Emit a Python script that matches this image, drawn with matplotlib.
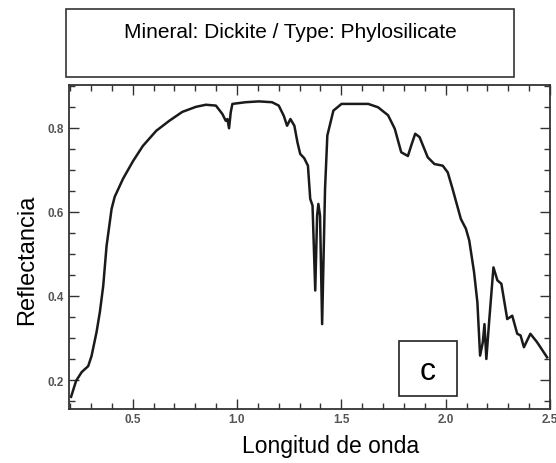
import matplotlib
matplotlib.use("Agg")
from matplotlib import pyplot as plt
from matplotlib.patches import Rectangle
from matplotlib.ticker import MultipleLocator

plt.rcParams['font.family'] = ['Liberation Sans', 'DejaVu Sans']

# espectro de reflectancia (longitud de onda en micras)
wavelength = [0.205, 0.229, 0.256, 0.287, 0.303, 0.327, 0.343, 0.359, 0.375, 0.399,
              0.414, 0.454, 0.502, 0.549, 0.613, 0.676, 0.738, 0.803, 0.851, 0.899,
              0.930, 0.946, 0.954, 0.962, 0.970, 0.978, 1.041, 1.105, 1.168, 1.200,
              1.224, 1.240, 1.256, 1.275, 1.290, 1.303, 1.322, 1.340, 1.351, 1.362,
              1.375, 1.384, 1.390, 1.398, 1.408, 1.422, 1.433, 1.462, 1.501, 1.565,
              1.629, 1.676, 1.724, 1.756, 1.787, 1.819, 1.835, 1.854, 1.875, 1.914,
              1.946, 1.986, 2.010, 2.033, 2.073, 2.097, 2.113, 2.136, 2.152, 2.165,
              2.178, 2.186, 2.195, 2.208, 2.229, 2.248, 2.267, 2.295, 2.319, 2.343,
              2.359, 2.375, 2.406, 2.438, 2.486]
reflectance = [0.160, 0.198, 0.219, 0.233, 0.257, 0.314, 0.362, 0.424, 0.519, 0.607,
               0.636, 0.679, 0.721, 0.757, 0.793, 0.817, 0.838, 0.850, 0.855, 0.853,
               0.833, 0.817, 0.821, 0.799, 0.837, 0.857, 0.861, 0.863, 0.861, 0.853,
               0.829, 0.805, 0.821, 0.805, 0.765, 0.738, 0.728, 0.710, 0.631, 0.615,
               0.413, 0.591, 0.619, 0.591, 0.333, 0.655, 0.782, 0.841, 0.857, 0.857,
               0.857, 0.849, 0.830, 0.798, 0.742, 0.733, 0.758, 0.786, 0.778, 0.730,
               0.714, 0.710, 0.694, 0.655, 0.583, 0.560, 0.532, 0.457, 0.385, 0.258,
               0.290, 0.333, 0.250, 0.337, 0.468, 0.437, 0.429, 0.345, 0.353, 0.310,
               0.306, 0.278, 0.310, 0.290, 0.254]

title = "Mineral: Dickite / Type: Phylosilicate"
xlabel = "Longitud de onda"
ylabel = "Reflectancia"
panel = "c"

fig = plt.figure(figsize=(5.56, 4.64), dpi=100)
ax = fig.add_axes([69 / 556, 1 - 410 / 464, 481 / 556, 324 / 464])

ax.plot(wavelength, reflectance, color='#1a1a1a', linewidth=1.8)
ax.set_xlim(0.195, 2.5)
ax.set_ylim(0.131, 0.902)

ax.xaxis.set_major_locator(MultipleLocator(0.5))
ax.xaxis.set_minor_locator(MultipleLocator(0.1))
ax.yaxis.set_major_locator(MultipleLocator(0.2))
ax.yaxis.set_minor_locator(MultipleLocator(0.05))
ax.tick_params(which='both', direction='in', top=True, right=True,
               color='#333333', width=1.0)
ax.tick_params(which='major', length=7)
ax.tick_params(which='minor', length=4.5)
ax.tick_params(axis='x', labelsize=8.5, labelcolor='#555555', pad=3)
ax.tick_params(axis='y', labelsize=8.5, labelcolor='#555555', pad=4)
for lbl in ax.get_xticklabels() + ax.get_yticklabels():
    lbl.set_fontweight('bold')
for sp in ax.spines.values():
    sp.set_color('#333333')
    sp.set_linewidth(1.3)

# etiquetas de ejes
fig.text(331 / 556, 1 - 447 / 464, xlabel, fontsize=16.5, ha='center', va='center')
fig.text(27 / 556, 1 - 260 / 464, ylabel, fontsize=17, rotation=90,
         ha='center', va='center')

# caja del título
fig.patches.append(Rectangle((66 / 556, 1 - 78 / 464), 448 / 556, 68 / 464,
                             transform=fig.transFigure, fill=False,
                             edgecolor='#333333', linewidth=1.2))
fig.text(290 / 556, 1 - 32 / 464, title, fontsize=15, ha='center', va='center')

# caja de la letra del panel
fig.patches.append(Rectangle((399 / 556, 1 - 397 / 464), 58 / 556, 55 / 464,
                             transform=fig.transFigure, facecolor='white',
                             edgecolor='#222222', linewidth=1.2, zorder=5))
fig.text(428 / 556, 1 - 372 / 464, panel, fontsize=23, ha='center', va='center',
         zorder=6)

fig.savefig("out.png", dpi=100)
